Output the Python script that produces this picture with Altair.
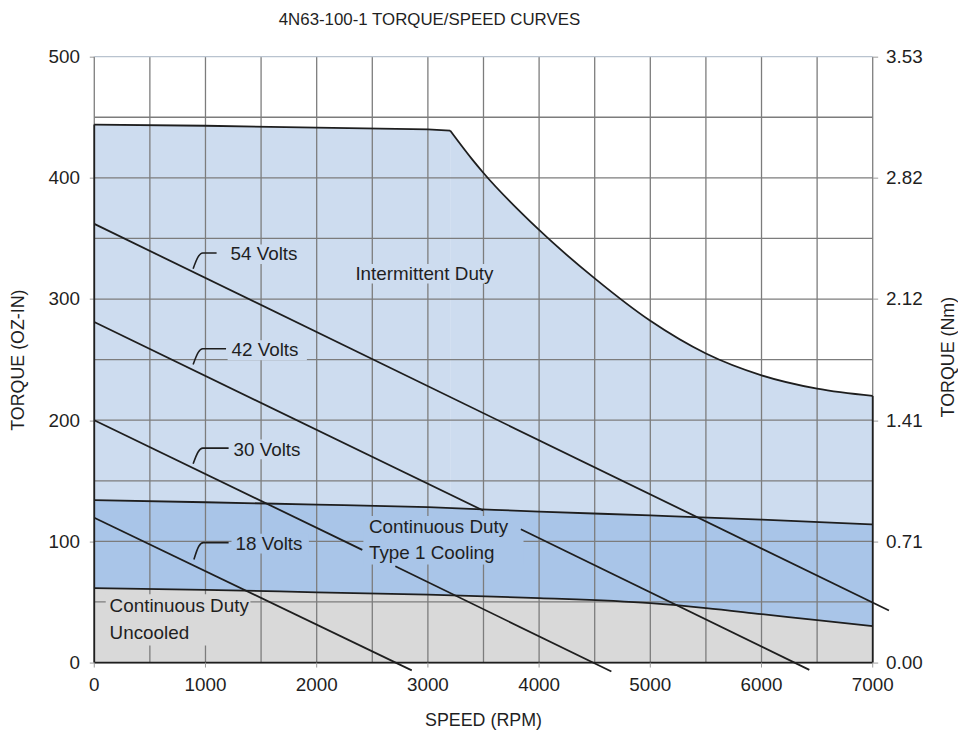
import altair as alt
import pandas as pd

FONT = "Liberation Sans, Arial, Helvetica, sans-serif"
INK = "#1e1e1e"
TXT = "#1f1f1f"

# ---------------- data ----------------
# Intermittent duty envelope (oz-in vs RPM)
int_speed = [0, 1000, 2000, 3000, 3200, 3400, 3500, 4000, 4500, 5000, 5500, 6000, 6500, 7000]
int_torque = [444, 443, 441.5, 440, 439, 415, 404, 357, 317, 282, 255, 237, 226, 220]
corner_speed = 3200

# Continuous duty - Type 1 cooling
type1_speed = [0, 1000, 2000, 3000, 4000, 5000, 6000, 7000]
type1_torque = [134, 132.3, 130.4, 128.2, 124.6, 121.4, 118, 114]

# Continuous duty - uncooled
unc_speed = [0, 1000, 2000, 3000, 4000, 5000, 5500, 6000, 6500, 7000]
unc_torque = [61.4, 60, 58, 56, 53.2, 49, 45, 40, 35, 30]

# Voltage lines (drawn segments; gaps where text sits)
volt_seg = ["54a", "42a", "42b", "30a", "30b", "18a"]
volt_s0 = [0, 0, 3836, 0, 2707, 0]
volt_t0 = [362, 281, 110, 200, 79.5, 119.5]
volt_s1 = [7146, 3497, 6430, 2410, 4650, 2855]
volt_t1 = [43, 125.5, -6, 93, -7.4, -6.4]

# Voltage labels and leader hooks
volt_labels = ["54 Volts", "42 Volts", "30 Volts", "18 Volts"]
volt_label_speed = [1225, 1234, 1252, 1270]
volt_label_torque = [337.5, 257.7, 175.5, 98]
leader_speed = [[889, 935, 975, 1100], [889, 935, 975, 1185], [889, 935, 975, 1208], [896, 940, 980, 1208]]
leader_torque = [[325, 335, 338, 338], [246, 256, 259, 259], [164, 174, 177, 177], [85, 96, 99, 99]]

# Region labels
region_texts = ["Intermittent Duty", "Continuous Duty", "Type 1 Cooling", "Continuous Duty", "Uncooled"]
region_text_speed = [2348, 2470, 2470, 138, 138]
region_text_torque = [320.7, 112.1, 90, 46.6, 24.5]

# Label knock-out boxes (grid hidden behind text)
ko_region = ["Intermittent", "Intermittent", "Intermittent", "Type1", "Intermittent", "Type1", "Uncooled"]
ko_s0 = [1190, 1199, 1217, 1234, 2313, 2420, 103]
ko_s1 = [1903, 1912, 1912, 1930, 3676, 3860, 1404]
ko_t0 = [329, 249.5, 167.7, 90, 312.8, 81, 14]
ko_t1 = [345, 266, 184, 106.4, 329, 121, 56.4]

regions = ["Intermittent", "Type1", "Uncooled"]
region_colors = ["#cddcef", "#a9c5e8", "#d9d9d9"]

grid_speed = list(range(0, 7001, 500))
grid_torque = list(range(0, 501, 50))
speed_ticks = [0, 1000, 2000, 3000, 4000, 5000, 6000, 7000]
torque_ticks = [0, 100, 200, 300, 400, 500]
NM_PER_OZIN = 0.00706

TITLE = "4N63-100-1 TORQUE/SPEED CURVES"
X_TITLE = "SPEED (RPM)"

# ---------------- frames ----------------
int_df = pd.DataFrame({"speed": int_speed, "torque": int_torque, "region": "Intermittent"})
int_flat = int_df[int_df.speed <= corner_speed]
int_curve = int_df[int_df.speed >= corner_speed]
type1_df = pd.DataFrame({"speed": type1_speed, "torque": type1_torque, "region": "Type1"})
unc_df = pd.DataFrame({"speed": unc_speed, "torque": unc_torque, "region": "Uncooled"})

volt_df = pd.DataFrame({"seg": volt_seg, "s0": volt_s0, "t0": volt_t0, "s1": volt_s1, "t1": volt_t1})

lead_rows = []
for lab, ss, tt in zip(volt_labels, leader_speed, leader_torque):
    for i, (s, t) in enumerate(zip(ss, tt)):
        lead_rows.append({"label": lab, "speed": s, "torque": t, "order": i})
lead_df = pd.DataFrame(lead_rows)

vlab_df = pd.DataFrame({"text": volt_labels, "speed": volt_label_speed, "torque": volt_label_torque})
rlab_df = pd.DataFrame({"text": region_texts, "speed": region_text_speed, "torque": region_text_torque})
ko_df = pd.DataFrame({"region": ko_region, "s0": ko_s0, "s1": ko_s1, "t0": ko_t0, "t1": ko_t1})

vgrid_df = pd.DataFrame({"speed": grid_speed, "lo": 0, "hi": 500})
hgrid_df = pd.DataFrame({"torque": grid_torque, "lo": 0, "hi": 7000})
xlab_df = pd.DataFrame({"speed": speed_ticks, "label": [str(s) for s in speed_ticks]})

edge_df = pd.DataFrame({
    "s0": [int_speed[0], int_speed[-1], int_speed[0]],
    "s1": [int_speed[0], int_speed[-1], int_speed[-1]],
    "t0": [0, 0, 0],
    "t1": [int_torque[0], int_torque[-1], 0],
})

W, H = 785, 611
xs = alt.Scale(domain=[0, 7000], nice=False, zero=False)
ys = alt.Scale(domain=[0, 500], nice=False)
cs = alt.Scale(domain=regions, range=region_colors)

common_axis = dict(
    grid=False, domain=False, tickSize=5, tickColor="#9a9a9a",
    labelFontSize=19, titleFontSize=18, titleAlign="center", titleBaseline="middle",
)
y_axis_left = alt.Axis(
    orient="left", values=torque_ticks, title="TORQUE (OZ-IN)", labelPadding=10,
    titleX=-76, titleY=H / 2, titleAngle=270, **common_axis,
)
y_axis_right = alt.Axis(
    orient="right", values=torque_ticks, title="TORQUE (Nm)", labelPadding=8,
    titleX=76, titleY=H / 2 - 3, titleAngle=270,
    labelExpr=f"format(datum.value * {NM_PER_OZIN}, '.2f')", **common_axis,
)


def X(field="speed"):
    return alt.X(f"{field}:Q", scale=xs, axis=None)


def Y(field="torque", axis=None):
    return alt.Y(f"{field}:Q", scale=ys, axis=axis)


col = alt.Color("region:N", scale=cs, legend=None)

area_flat = alt.Chart(int_flat).mark_area(interpolate="linear").encode(
    x=X(), y=Y(axis=y_axis_left), color=col)
area_curve = alt.Chart(int_curve).mark_area(interpolate="monotone").encode(x=X(), y=Y(), color=col)
area_t1 = alt.Chart(type1_df).mark_area(interpolate="monotone").encode(x=X(), y=Y(), color=col)
area_unc = alt.Chart(unc_df).mark_area(interpolate="monotone").encode(x=X(), y=Y(), color=col)

vgrid = alt.Chart(vgrid_df).mark_rule(color="#7c7c7c", strokeWidth=1.3).encode(
    x=X(), y=Y("lo"), y2="hi")
hgrid = alt.Chart(hgrid_df).mark_rule(strokeWidth=1.3).encode(
    y=Y(axis=y_axis_right), x=X("lo"), x2="hi",
    color=alt.condition(alt.datum.torque >= 500, alt.value("#b9c3cf"), alt.value("#7c7c7c")))

# bottom axis drawn from the x scale
xticks = alt.Chart(xlab_df).mark_rule(color="#9a9a9a", strokeWidth=1).encode(
    x=X(), y=alt.value(H), y2=alt.value(H + 5))
xlabels = alt.Chart(xlab_df).mark_text(
    align="center", baseline="middle", font=FONT, fontSize=19, color=TXT
).encode(x=X(), y=alt.value(H + 23), text="label:N")
xtitle = alt.Chart(pd.DataFrame({"t": [X_TITLE]})).mark_text(
    align="center", baseline="middle", font=FONT, fontSize=18, color=TXT
).encode(x=alt.value(W / 2), y=alt.value(H + 59), text="t:N")

knock = alt.Chart(ko_df).mark_rect().encode(
    x=X("s0"), x2="s1", y=Y("t0"), y2="t1", color=col)

line_kw = dict(color=INK, strokeWidth=1.8)
b_flat = alt.Chart(int_flat).mark_line(interpolate="linear", **line_kw).encode(x=X(), y=Y())
b_curve = alt.Chart(int_curve).mark_line(interpolate="monotone", **line_kw).encode(x=X(), y=Y())
b_t1 = alt.Chart(type1_df).mark_line(interpolate="monotone", **line_kw).encode(x=X(), y=Y())
b_unc = alt.Chart(unc_df).mark_line(interpolate="monotone", **line_kw).encode(x=X(), y=Y())

edges = alt.Chart(edge_df).mark_rule(**line_kw).encode(x=X("s0"), x2="s1", y=Y("t0"), y2="t1")

volts = alt.Chart(volt_df).mark_rule(color=INK, strokeWidth=1.8).encode(
    x=X("s0"), x2="s1", y=Y("t0"), y2="t1")

leaders = alt.Chart(lead_df).mark_line(interpolate="monotone", color=INK, strokeWidth=1.6).encode(
    x=X(), y=Y(), detail="label:N", order="order:Q")

txt_kw = dict(align="left", baseline="middle", font=FONT, fontSize=19, color=TXT)
vtext = alt.Chart(vlab_df).mark_text(**txt_kw).encode(x=X(), y=Y(), text="text:N")
rtext = alt.Chart(rlab_df).mark_text(**txt_kw).encode(x=X(), y=Y(), text="text:N")

title = alt.Chart(pd.DataFrame({"t": [TITLE]})).mark_text(
    align="center", baseline="middle", font=FONT, fontSize=17, color=TXT
).encode(x=alt.value(338), y=alt.value(-37), text="t:N")

chart = alt.layer(
    area_flat, area_curve, area_t1, area_unc,
    vgrid, hgrid, knock,
    b_flat, b_curve, b_t1, b_unc, edges,
    volts, leaders, vtext, rtext,
    xticks, xlabels, xtitle, title,
).resolve_axis(y="independent").properties(
    width=W, height=H,
    autosize=alt.AutoSizeParams(type="none"),
    padding={"left": 87, "top": 46, "right": 86, "bottom": 75},
    background="white",
).configure_view(stroke=None).configure_axis(
    labelFont=FONT, titleFont=FONT, labelColor=TXT, titleColor=TXT,
    titleFontWeight="normal",
)

chart.save("out.html", embed_options={"renderer": "svg", "actions": False})
